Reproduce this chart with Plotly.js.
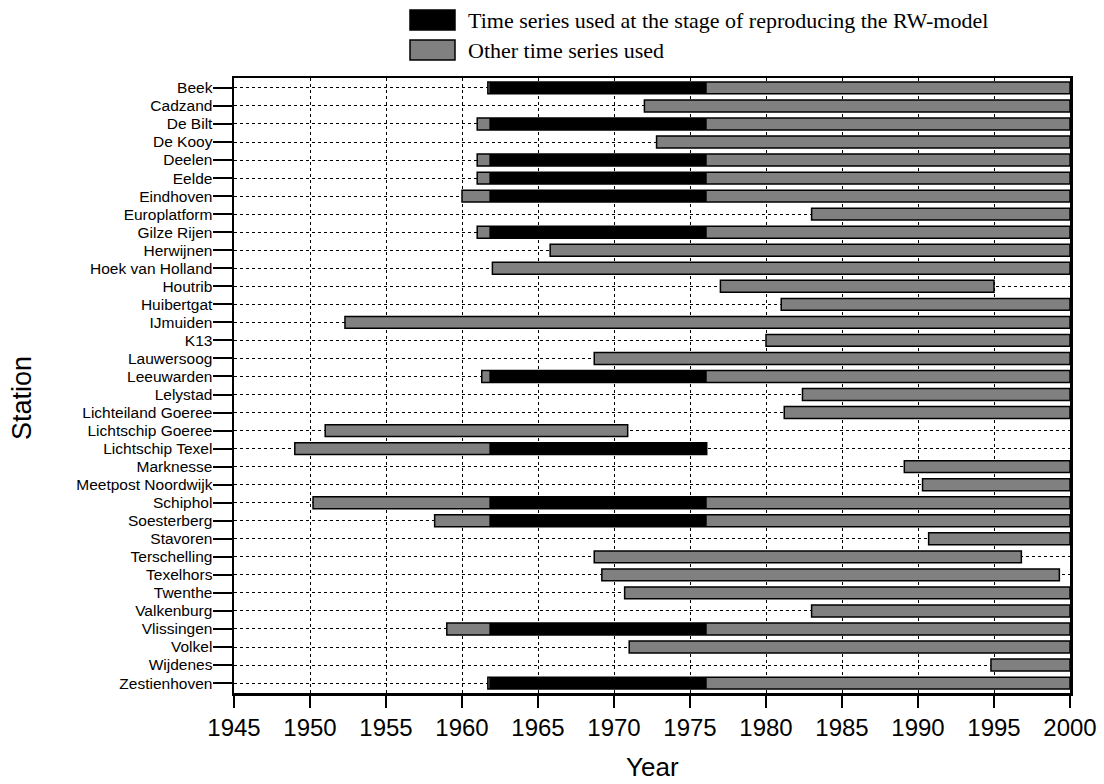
<!DOCTYPE html>
<html>
<head>
<meta charset="utf-8">
<script src="https://cdn.plot.ly/plotly-3.0.1.min.js"></script>
<style>
html,body{margin:0;padding:0;background:#fff;}
#chart{width:1104px;height:784px;}
</style>
</head>
<body>
<div id="chart"></div>
<script>
// Stations (top to bottom)
var stations = ["Beek","Cadzand","De Bilt","De Kooy","Deelen","Eelde","Eindhoven","Europlatform",
  "Gilze Rijen","Herwijnen","Hoek van Holland","Houtrib","Huibertgat","IJmuiden","K13","Lauwersoog",
  "Leeuwarden","Lelystad","Lichteiland Goeree","Lichtschip Goeree","Lichtschip Texel","Marknesse",
  "Meetpost Noordwijk","Schiphol","Soesterberg","Stavoren","Terschelling","Texelhors","Twenthe",
  "Valkenburg","Vlissingen","Volkel","Wijdenes","Zestienhoven"];
// First and last year of each station's time series
var seriesStart = [1961.7,1972.0,1961.0,1972.8,1961.0,1961.0,1960.0,1983.0,
  1961.0,1965.8,1962.0,1977.0,1981.0,1952.3,1980.0,1968.7,
  1961.3,1982.4,1981.2,1951.0,1949.0,1989.1,
  1990.3,1950.2,1958.2,1990.7,1968.7,1969.2,1970.7,
  1983.0,1959.0,1971.0,1994.8,1961.7];
var seriesEnd = [2000,2000,2000,2000,2000,2000,2000,2000,
  2000,2000,2000,1995.0,2000,2000,2000,2000,
  2000,2000,2000,1970.9,1976.1,2000,
  2000,2000,2000,2000,1996.8,1999.3,2000,
  2000,2000,2000,2000,2000];
// Stations used at the stage of reproducing the RW-model, with period
var rwStations = ["Beek","De Bilt","Deelen","Eelde","Eindhoven","Gilze Rijen","Leeuwarden",
  "Lichtschip Texel","Schiphol","Soesterberg","Vlissingen","Zestienhoven"];
var rwStart = [1961.8,1961.8,1961.8,1961.8,1961.8,1961.8,1961.8,1961.8,1961.8,1961.8,1961.8,1961.8];
var rwEnd   = [1976.1,1976.1,1976.1,1976.1,1976.1,1976.1,1976.1,1976.1,1976.1,1976.1,1976.1,1976.1];
var xTicks = [1945,1950,1955,1960,1965,1970,1975,1980,1985,1990,1995,2000];
var legendLabels = ["Time series used at the stage of reproducing the RW-model","Other time series used"];
var xTitle = "Year", yTitle = "Station";

var W = 1104, H = 784, L = 234, R = 34, T = 78, B = 91;
var PW = W - L - R, PH = H - T - B;
function px(x){ return (x - L) / PW; }
function py(y){ return (H - B - y) / PH; }

var traces = [
  {
    type: "bar", orientation: "h", y: stations,
    base: seriesStart,
    x: seriesStart.map(function(s,i){ return seriesEnd[i]-s; }),
    width: 0.66,
    marker: {color: "#808080", line: {color: "#000", width: 1.5}},
    showlegend: false, hoverinfo: "skip"
  },
  {
    type: "bar", orientation: "h", y: rwStations,
    base: rwStart,
    x: rwStart.map(function(s,i){ return rwEnd[i]-s; }),
    width: 0.66,
    marker: {color: "#000", line: {color: "#000", width: 0}},
    showlegend: false, hoverinfo: "skip"
  }
];

var sans = "Liberation Sans, Arial, sans-serif";
var serif = "Liberation Serif, Times New Roman, serif";

var layout = {
  width: W, height: H,
  margin: {l: L, r: R, t: T, b: B},
  paper_bgcolor: "#fff", plot_bgcolor: "#fff",
  barmode: "overlay",
  font: {family: sans, color: "#000"},
  xaxis: {
    range: [1945, 2000], tickmode: "array", tickvals: xTicks, ticktext: xTicks.map(String),
    showline: true, linecolor: "#000", linewidth: 2.5, mirror: true,
    ticks: "outside", ticklen: 12, tickwidth: 2, tickcolor: "#000",
    showgrid: true, gridcolor: "#000", gridwidth: 1, griddash: "dot",
    zeroline: false,
    tickfont: {size: 24, family: sans}
  },
  yaxis: {
    type: "category", categoryorder: "array", categoryarray: stations,
    tickmode: "array", tickvals: stations, ticktext: stations,
    range: [stations.length - 0.45, -0.55],
    showline: true, linecolor: "#000", linewidth: 2.5, mirror: true,
    ticks: "outside", ticklen: 19, tickwidth: 2, tickcolor: "#000",
    ticklabelstandoff: -3,
    showgrid: true, gridcolor: "#000", gridwidth: 1, griddash: "dot",
    zeroline: false,
    tickfont: {size: 15.5, family: sans}
  },
  shapes: [
    {type: "rect", xref: "paper", yref: "paper", x0: px(410), x1: px(455), y0: py(30), y1: py(10),
      fillcolor: "#000", line: {color: "#000", width: 1.5}},
    {type: "rect", xref: "paper", yref: "paper", x0: px(410), x1: px(455), y0: py(60), y1: py(40),
      fillcolor: "#808080", line: {color: "#000", width: 1.5}}
  ],
  annotations: [
    {xref: "paper", yref: "paper", x: px(466), y: py(20), xanchor: "left", yanchor: "middle",
      showarrow: false, text: legendLabels[0], font: {family: serif, size: 22}},
    {xref: "paper", yref: "paper", x: px(466), y: py(50), xanchor: "left", yanchor: "middle",
      showarrow: false, text: legendLabels[1], font: {family: serif, size: 22}},
    {xref: "paper", yref: "paper", x: px(652), y: py(767), xanchor: "center", yanchor: "middle",
      showarrow: false, text: xTitle, font: {family: sans, size: 26}},
    {xref: "paper", yref: "paper", x: px(22), y: py(398), xanchor: "center", yanchor: "middle",
      showarrow: false, textangle: -90, text: yTitle, font: {family: sans, size: 27}}
  ]
};

Plotly.newPlot("chart", traces, layout, {displayModeBar: false, staticPlot: true});
</script>
</body>
</html>
